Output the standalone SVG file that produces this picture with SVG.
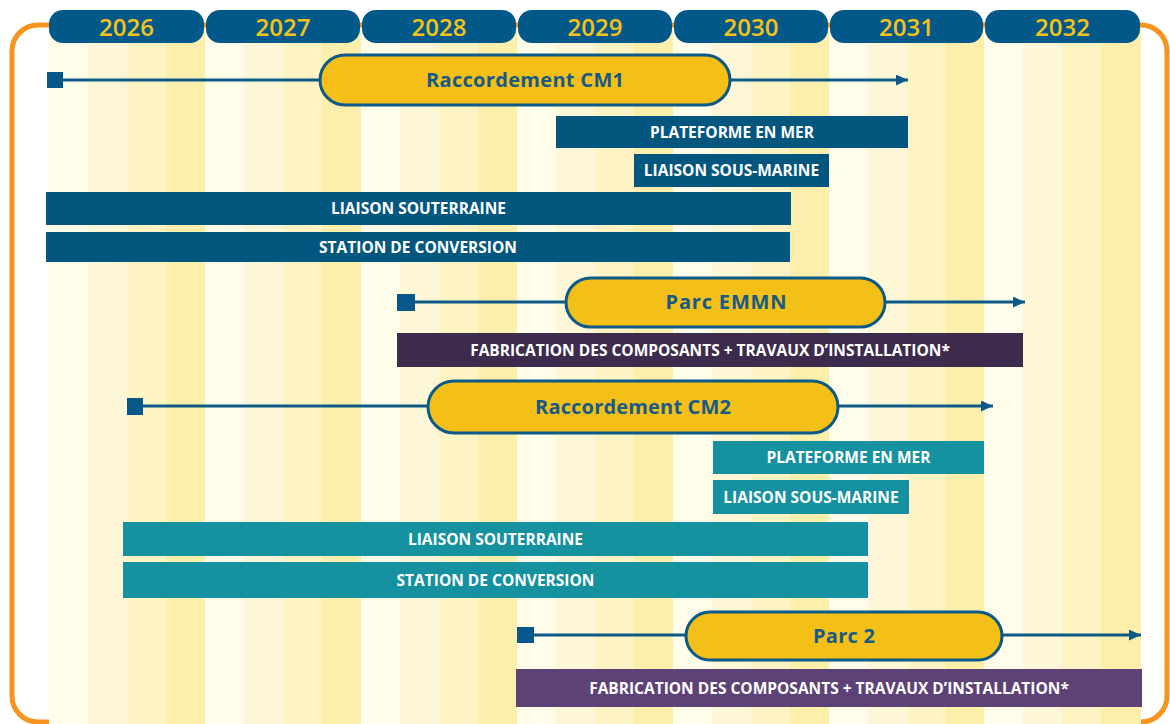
<svg xmlns="http://www.w3.org/2000/svg" width="1170" height="724" viewBox="0 0 1170 724">
<defs>
<style>
.q1{fill:#fffce9}.q2{fill:#fef7d7}.q3{fill:#fdf3c3}.q4{fill:#fcefab}
.yp{fill:#03588a}
.yt{font-family:"Open Sans","Liberation Sans",sans-serif;font-weight:600;font-size:24px;fill:#f3c317;text-anchor:middle}
.pill{fill:#f4bf16;stroke:#0b5a88;stroke-width:3}
.pt{font-family:"Open Sans","Liberation Sans",sans-serif;font-weight:700;font-size:20px;fill:#165a86;text-anchor:middle}
.bt{font-family:"Open Sans","Liberation Sans",sans-serif;font-weight:700;font-size:15.5px;fill:#ffffff;text-anchor:middle}
.db{fill:#03577f}.tl{fill:#15919f}.dp{fill:#3d2b4e}.pp{fill:#5d4277}
.ln{stroke:#0d5a89;stroke-width:2.8;fill:none}
.sq{fill:#06588a}
</style>
<marker id="ah" markerUnits="userSpaceOnUse" markerWidth="14" markerHeight="12" refX="12" refY="5.5" orient="auto">
<path d="M0,0 L12,5.5 L0,11 z" fill="#0d5a89"/>
</marker>
</defs>
<rect width="1170" height="724" fill="#ffffff"/>
<rect x="12" y="25" width="1155" height="697" rx="26" fill="none" stroke="#f7941d" stroke-width="5"/>
<g id="stripes">
<rect class="q1" x="49" y="28" width="39" height="696"/><rect class="q2" x="88" y="28" width="39" height="696"/><rect class="q3" x="127" y="28" width="39" height="696"/><rect class="q4" x="166" y="28" width="39" height="696"/>
<rect class="q1" x="205" y="28" width="39" height="696"/><rect class="q2" x="244" y="28" width="39" height="696"/><rect class="q3" x="283" y="28" width="39" height="696"/><rect class="q4" x="322" y="28" width="39" height="696"/>
<rect class="q1" x="361" y="28" width="39" height="696"/><rect class="q2" x="400" y="28" width="39" height="696"/><rect class="q3" x="439" y="28" width="39" height="696"/><rect class="q4" x="478" y="28" width="39" height="696"/>
<rect class="q1" x="517" y="28" width="39" height="696"/><rect class="q2" x="556" y="28" width="39" height="696"/><rect class="q3" x="595" y="28" width="39" height="696"/><rect class="q4" x="634" y="28" width="39" height="696"/>
<rect class="q1" x="673" y="28" width="39" height="696"/><rect class="q2" x="712" y="28" width="39" height="696"/><rect class="q3" x="751" y="28" width="39" height="696"/><rect class="q4" x="790" y="28" width="39" height="696"/>
<rect class="q1" x="829" y="28" width="39" height="696"/><rect class="q2" x="868" y="28" width="39" height="696"/><rect class="q3" x="907" y="28" width="39" height="696"/><rect class="q4" x="946" y="28" width="38" height="696"/>
<rect class="q1" x="984" y="28" width="39" height="696"/><rect class="q2" x="1023" y="28" width="39" height="696"/><rect class="q3" x="1062" y="28" width="39" height="696"/><rect class="q4" x="1101" y="28" width="40" height="696"/>
</g>
<g id="years">
<g id="y2026"><rect class="yp" x="49" y="10" width="155" height="33" rx="14"/><text class="yt" x="126.5" y="36">2026</text></g>
<g id="y2027"><rect class="yp" x="206" y="10" width="154" height="33" rx="14"/><text class="yt" x="283" y="36">2027</text></g>
<g id="y2028"><rect class="yp" x="362" y="10" width="154" height="33" rx="14"/><text class="yt" x="439" y="36">2028</text></g>
<g id="y2029"><rect class="yp" x="518" y="10" width="154" height="33" rx="14"/><text class="yt" x="595" y="36">2029</text></g>
<g id="y2030"><rect class="yp" x="674" y="10" width="154" height="33" rx="14"/><text class="yt" x="751" y="36">2030</text></g>
<g id="y2031"><rect class="yp" x="830" y="10" width="153" height="33" rx="14"/><text class="yt" x="906.5" y="36">2031</text></g>
<g id="y2032"><rect class="yp" x="985" y="10" width="155" height="33" rx="14"/><text class="yt" x="1062.5" y="36">2032</text></g>
</g>
<g id="connectors">
<line class="ln" x1="60" y1="80" x2="908" y2="80" marker-end="url(#ah)"/>
<line class="ln" x1="410" y1="302" x2="1025" y2="302" marker-end="url(#ah)"/>
<line class="ln" x1="140" y1="406" x2="993" y2="406" marker-end="url(#ah)"/>
<line class="ln" x1="530" y1="635" x2="1141" y2="635" marker-end="url(#ah)"/>
<rect class="sq" x="47" y="72" width="16" height="16"/>
<rect class="sq" x="397" y="294" width="18" height="17"/>
<rect class="sq" x="127" y="398" width="16" height="17"/>
<rect class="sq" x="517" y="627" width="17" height="16"/>
</g>
<g id="cm1"><rect class="pill" x="320" y="55" width="410" height="50" rx="25"/><text class="pt" x="525" y="87" textLength="198">Raccordement CM1</text></g>
<g id="cm1-plateforme"><rect class="db" x="556" y="116" width="352" height="32"/><text class="bt" x="732" y="137.5">PLATEFORME EN MER</text></g>
<g id="cm1-sousmarine"><rect class="db" x="634" y="154" width="195" height="33"/><text class="bt" x="731.5" y="176">LIAISON SOUS-MARINE</text></g>
<g id="cm1-souterraine"><rect class="db" x="46" y="192" width="745" height="33"/><text class="bt" x="418.5" y="214">LIAISON SOUTERRAINE</text></g>
<g id="cm1-station"><rect class="db" x="46" y="232" width="744" height="30"/><text class="bt" x="418" y="252.5">STATION DE CONVERSION</text></g>
<g id="emmn"><rect class="pill" x="566" y="278" width="319" height="49" rx="24.5"/><text class="pt" x="726" y="309" textLength="121">Parc EMMN</text></g>
<g id="emmn-fabrication"><rect class="dp" x="397" y="333" width="626" height="34"/><text class="bt" x="710" y="355.5">FABRICATION DES COMPOSANTS + TRAVAUX D’INSTALLATION*</text></g>
<g id="cm2"><rect class="pill" x="428" y="381" width="410" height="52" rx="26"/><text class="pt" x="633" y="414" textLength="196">Raccordement CM2</text></g>
<g id="cm2-plateforme"><rect class="tl" x="713" y="441" width="271" height="33"/><text class="bt" x="848.5" y="463">PLATEFORME EN MER</text></g>
<g id="cm2-sousmarine"><rect class="tl" x="713" y="480" width="196" height="34"/><text class="bt" x="811" y="502.5">LIAISON SOUS-MARINE</text></g>
<g id="cm2-souterraine"><rect class="tl" x="123" y="522" width="745" height="34"/><text class="bt" x="495.5" y="544.5">LIAISON SOUTERRAINE</text></g>
<g id="cm2-station"><rect class="tl" x="123" y="562" width="745" height="36"/><text class="bt" x="495.5" y="585.5">STATION DE CONVERSION</text></g>
<g id="parc2"><rect class="pill" x="686" y="612" width="316" height="48" rx="24"/><text class="pt" x="844" y="643" textLength="62">Parc 2</text></g>
<g id="parc2-fabrication"><rect class="pp" x="516" y="669" width="626" height="38"/><text class="bt" x="829" y="693.5">FABRICATION DES COMPOSANTS + TRAVAUX D’INSTALLATION*</text></g>
</svg>
